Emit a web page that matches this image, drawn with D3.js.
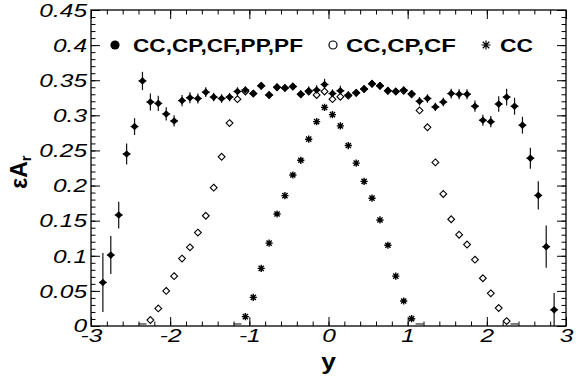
<!DOCTYPE html>
<html><head><meta charset="utf-8">
<script src="https://cdn.jsdelivr.net/npm/d3@7"></script>
<style>body{margin:0;background:#fff}</style>
</head><body><svg id="c" width="579" height="379"></svg>
<script>
// ---- data ----
const binCenters = [-2.85,-2.75,-2.65,-2.55,-2.45,-2.35,-2.25,-2.15,-2.05,-1.95,
  -1.85,-1.75,-1.65,-1.55,-1.45,-1.35,-1.25,-1.15,-1.05,-0.95,
  -0.85,-0.75,-0.65,-0.55,-0.45,-0.35,-0.25,-0.15,-0.05,0.05,
  0.15,0.25,0.35,0.45,0.55,0.65,0.75,0.85,0.95,1.05,
  1.15,1.25,1.35,1.45,1.55,1.65,1.75,1.85,1.95,2.05,
  2.15,2.25,2.35,2.45,2.55,2.65,2.75,2.85];
const binHalfWidth = 0.05;
// CC,CP,CF,PP,PF (filled)
const allVals = [0.062,0.101,0.158,0.245,0.284,0.349,0.319,0.317,0.302,0.292,
  0.321,0.325,0.324,0.333,0.326,0.324,0.326,0.334,0.336,0.331,
  0.342,0.329,0.340,0.339,0.341,0.330,0.335,0.336,0.344,0.331,
  0.335,0.329,0.332,0.3375,0.345,0.342,0.335,0.334,0.336,0.331,
  0.320,0.324,0.312,0.319,0.331,0.330,0.330,0.313,0.293,0.291,
  0.316,0.326,0.313,0.286,0.239,0.186,0.113,0.023];
const allErrs = [0.042,0.027,0.019,0.015,0.012,0.013,0.012,0.011,0.0095,0.008,
  0.008,0.0078,0.007,0.007,0.006,0.006,0.006,0.006,0.005,0.005,
  0.005,0.005,0.005,0.005,0.005,0.005,0.006,0.007,0.008,0.006,
  0.007,0.005,0.005,0.005,0.005,0.005,0.005,0.005,0.005,0.005,
  0.006,0.006,0.006,0.006,0.007,0.007,0.007,0.008,0.008,0.008,
  0.011,0.012,0.012,0.012,0.015,0.020,0.030,0.024];
// CC,CP,CF (open)
const ccpcfVals = [null,null,null,null,null,0.0015,0.0085,0.025,0.050,0.071,
  0.096,0.112,0.133,0.157,0.197,0.241,0.289,0.323,0.334,0.331,
  0.342,0.329,0.340,0.339,0.341,0.330,0.334,0.329,0.334,0.323,
  0.3265,0.328,0.332,0.3375,0.345,0.342,0.335,0.334,0.335,0.330,
  0.307,0.283,0.233,0.188,0.152,0.130,0.116,0.0945,0.068,0.0465,
  0.0256,0.007,0.0015,null,null,null,null,null];
// CC (star)
const ccVals = [null,null,null,null,null,null,null,null,null,null,
  null,null,null,null,null,null,null,0.0015,0.0133,0.0408,
  0.082,0.118,0.1595,0.1856,0.215,0.236,0.266,0.291,0.3114,0.301,
  0.285,0.257,0.232,0.206,0.182,0.151,0.115,0.071,0.0356,0.0104,
  0.0015,null,null,null,null,null,null,null,null,null,
  null,null,null,null,null,null,null,null];
const yTicks = [0,0.05,0.1,0.15,0.2,0.25,0.3,0.35,0.4,0.45];
const yTickLabels = ["0","0.05","0.1","0.15","0.2","0.25","0.3","0.35","0.4","0.45"];
const xTicks = [-3,-2,-1,0,1,2,3];
const xTickLabels = ["-3","-2","-1","0","1","2","3"];
const legendLabels = ["CC,CP,CF,PP,PF","CC,CP,CF","CC"];
const xTitle = "y";

// ---- layout ----
const L=91,R=566,T=10,B=326;
const FONT = "'Liberation Sans', Arial, Helvetica, sans-serif";
const SX = 1.4; // horizontal stretch of the original picture
const svg = d3.select("#c");
const x = d3.scaleLinear().domain([-3,3]).range([L,R]);
const y = d3.scaleLinear().domain([0,0.45]).range([B,T]);

svg.append("defs").append("clipPath").attr("id","clip")
  .append("rect").attr("x",L).attr("y",T).attr("width",R-L).attr("height",B-T);

const rows = binCenters.map((c,i)=>({c, v:allVals[i], e:allErrs[i], o:ccpcfVals[i], s:ccVals[i]}));
const plot = svg.append("g").attr("clip-path","url(#clip)");

// filled error bars
const eb = plot.append("g").attr("stroke","#111").attr("stroke-width",1.2);
eb.selectAll("line.v").data(rows).join("line").attr("class","v")
  .attr("x1",d=>x(d.c)).attr("x2",d=>x(d.c))
  .attr("y1",d=>y(d.v-d.e)).attr("y2",d=>y(d.v+d.e));
eb.selectAll("line.h").data(rows).join("line").attr("class","h")
  .attr("x1",d=>x(d.c-binHalfWidth)).attr("x2",d=>x(d.c+binHalfWidth))
  .attr("y1",d=>y(d.v)).attr("y2",d=>y(d.v));

const diamond = r => `M0,${-r}L${r},0L0,${r}L${-r},0Z`;
const SMALL = 0.005;

// open markers
const openRows = rows.filter(d=>d.o!==null);
plot.append("g").selectAll("line").data(openRows.filter(d=>d.o<SMALL)).join("line")
  .attr("x1",d=>x(d.c-binHalfWidth)).attr("x2",d=>x(d.c+binHalfWidth))
  .attr("y1",d=>y(d.o)-1).attr("y2",d=>y(d.o)-1).attr("stroke","#555").attr("stroke-width",1.5);
plot.append("g").selectAll("path").data(openRows.filter(d=>d.o>=SMALL)).join("path")
  .attr("transform",d=>`translate(${x(d.c)},${y(d.o)})`)
  .attr("d",diamond(3.4)).attr("fill","#fff").attr("stroke","#000").attr("stroke-width",1.1);

// filled markers
plot.append("g").selectAll("path").data(rows).join("path")
  .attr("transform",d=>`translate(${x(d.c)},${y(d.v)})`)
  .attr("d",diamond(3.8)).attr("fill","#000");

// star markers
const starRows = rows.filter(d=>d.s!==null);
plot.append("g").selectAll("line").data(starRows.filter(d=>d.s<SMALL)).join("line")
  .attr("x1",d=>x(d.c-binHalfWidth)).attr("x2",d=>x(d.c+binHalfWidth))
  .attr("y1",d=>y(d.s)-1).attr("y2",d=>y(d.s)-1).attr("stroke","#555").attr("stroke-width",1.5);
const star = r => { const q=r*0.72; return `M${-r},0L${r},0M0,${-r}L0,${r}M${-q},${-q}L${q},${q}M${-q},${q}L${q},${-q}`; };
plot.append("g").selectAll("path").data(starRows.filter(d=>d.s>=SMALL)).join("path")
  .attr("transform",d=>`translate(${x(d.c)},${y(d.s)})`)
  .attr("d",star(3.6)).attr("fill","none").attr("stroke","#000").attr("stroke-width",1.4);

// ---- axes ----
const yMinor = d3.range(0,0.4501,0.01);
const xMinor = d3.range(-3,3.001,0.2);
function styleAxis(g){ g.select(".domain").remove(); g.selectAll("line").attr("stroke","#000").attr("stroke-width",1); }

svg.append("g").attr("transform",`translate(${L},0)`)
  .call(d3.axisLeft(y).tickValues(yMinor).tickSizeInner(-4.5).tickSizeOuter(0).tickFormat(""))
  .call(styleAxis);
const yAx = svg.append("g").attr("transform",`translate(${L},0)`)
  .call(d3.axisLeft(y).tickValues(yTicks).tickSizeInner(-9).tickSizeOuter(0)
    .tickFormat((d,i)=>yTickLabels[i]))
  .call(styleAxis);
yAx.selectAll("text").attr("x",null).attr("dy","0.36em")
  .attr("transform",(d,i)=>`translate(-4,${i===0?-1:0}) scale(${SX},1)`)
  .attr("font-family",FONT).attr("font-size",17.5).attr("font-style","italic").attr("fill","#000");

svg.append("g").attr("transform",`translate(${R},0)`)
  .call(d3.axisRight(y).tickValues(yMinor).tickSizeInner(-4.5).tickSizeOuter(0).tickFormat(""))
  .call(styleAxis);
svg.append("g").attr("transform",`translate(${R},0)`)
  .call(d3.axisRight(y).tickValues(yTicks).tickSizeInner(-9).tickSizeOuter(0).tickFormat(""))
  .call(styleAxis);

svg.append("g").attr("transform",`translate(0,${B})`)
  .call(d3.axisBottom(x).tickValues(xMinor).tickSizeInner(-4.5).tickSizeOuter(0).tickFormat(""))
  .call(styleAxis);
const xAx = svg.append("g").attr("transform",`translate(0,${B})`)
  .call(d3.axisBottom(x).tickValues(xTicks).tickSizeInner(-9).tickSizeOuter(0)
    .tickFormat((d,i)=>xTickLabels[i]))
  .call(styleAxis);
xAx.selectAll("text").attr("y",null).attr("dy",null)
  .attr("transform",`translate(0,15.5) scale(${SX},1)`)
  .attr("font-family",FONT).attr("font-size",17.5).attr("font-style","italic").attr("fill","#000");

svg.append("g").attr("transform",`translate(0,${T})`)
  .call(d3.axisTop(x).tickValues(xMinor).tickSizeInner(-4.5).tickSizeOuter(0).tickFormat(""))
  .call(styleAxis);
svg.append("g").attr("transform",`translate(0,${T})`)
  .call(d3.axisTop(x).tickValues(xTicks).tickSizeInner(-9).tickSizeOuter(0).tickFormat(""))
  .call(styleAxis);

// frame
svg.append("rect").attr("x",L).attr("y",T).attr("width",R-L).attr("height",B-T)
  .attr("fill","none").attr("stroke","#000").attr("stroke-width",1.3);

// titles
svg.append("text").attr("transform",`translate(${(L+R)/2},369) scale(1.2,1)`)
  .attr("text-anchor","middle").attr("font-family",FONT).attr("font-weight","bold")
  .attr("font-size",22).text(xTitle);
const yt = svg.append("text").attr("transform","translate(27,172) rotate(-90)")
  .attr("text-anchor","middle").attr("font-family",FONT).attr("font-weight","bold")
  .attr("font-size",23);
yt.append("tspan").text("εA");
yt.append("tspan").attr("dy",4).attr("font-size",15).text("r");

// ---- legend ----
const legY = 45;
const leg = svg.append("g");
leg.append("circle").attr("cx",115).attr("cy",legY).attr("r",4.6).attr("fill","#000");
leg.append("circle").attr("cx",333).attr("cy",legY).attr("r",4).attr("fill","none").attr("stroke","#000").attr("stroke-width",1.2);
leg.append("path").attr("transform",`translate(486,${legY})`).attr("d",star(4.5))
  .attr("fill","none").attr("stroke","#000").attr("stroke-width",1.2);
const legX = [133,346,500];
const legW = [170,110,33];
legendLabels.forEach((t,i)=>{
  leg.append("text").attr("x",legX[i]).attr("y",legY+7)
    .attr("textLength",legW[i]).attr("lengthAdjust","spacingAndGlyphs")
    .attr("font-family",FONT).attr("font-weight","bold").attr("font-size",18.5).text(t);
});
</script></body></html>
